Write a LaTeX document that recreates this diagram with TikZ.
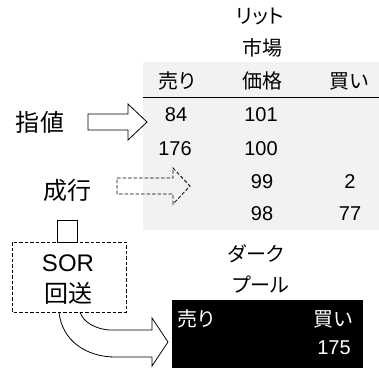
\documentclass[tikz,border=0pt]{standalone}
\usepackage{fontspec}
\setmainfont{Liberation Sans}
\newfontfamily\jp[RawFeature=+palt]{Noto Sans CJK JP}
\begin{document}
\begin{tikzpicture}[x=1pt,y=-1pt,
  tbl/.style={inner sep=0pt,font=\fontsize{20}{24}\selectfont},
  big/.style={inner sep=0pt,font=\fontsize{24}{28}\selectfont},
  wht/.style={tbl,text=white},
  shp/.style={draw=black,line width=0.8pt,line join=miter},
  dsh/.style={shp,dash pattern=on 3.5pt off 2pt}]
\useasboundingbox (0,0) rectangle (379,368);
% lit market table
\fill[gray!10] (143,62) rectangle (379,230);
\draw[line width=1pt] (143,97) -- (379,97);
\node[tbl] (lit1) at (260,17) {\jp リット};
\node[tbl] (lit2) at (262,48) {\jp 市場};
\node[tbl] (hs) at (177,81) {\jp 売り};
\node[tbl] (hp) at (262,81) {\jp 価格};
\node[tbl] (hb) at (349,81) {\jp 買い};
\node[tbl] (s1) at (176,115) {84};
\node[tbl] (p1) at (261,115) {101};
\node[tbl] (s2) at (175,149) {176};
\node[tbl] (p2) at (261,149) {100};
\node[tbl] (p3) at (262,182) {99};
\node[tbl] (b3) at (350,182) {2};
\node[tbl] (p4) at (262,214) {98};
\node[tbl] (b4) at (350,214) {77};
% labels
\node[big] (limit) at (40,122) {\jp 指値};
\node[big] (market) at (67,190) {\jp 成行};
% limit arrow
\draw[shp] (88,114) -- (128,114) -- (128,104) -- (147,122) -- (128,140) -- (128,130) -- (88,130) -- cycle;
% market arrow (dashed)
\draw[dsh] (117,178) -- (173,178) -- (173,168) -- (190,186) -- (173,204) -- (173,194) -- (117,194) -- cycle;
% small square and SOR box
\draw[shp] (57,220) rectangle (77,242);
\draw[dsh] (12,242) rectangle (126,312);
\node[big] (sor1) at (68,263) {SOR};
\node[big] (sor2) at (68,293) {\jp 回送};
% curved arrow
\draw[shp] (59,312) .. controls (62,342) and (88,357) .. (115,357) -- (152,357) -- (152,366) -- (168,342) -- (152,318) -- (152,330) -- (112,330) .. controls (96,330) and (83,322) .. (80,312);
% dark pool
\node[tbl] (dk1) at (256,254) {\jp ダーク};
\node[tbl] (dk2) at (261,285) {\jp プール};
\fill[black] (172,300) rectangle (363,368);
\node[wht] (ds) at (196,319) {\jp 売り};
\node[wht] (db) at (333,319) {\jp 買い};
\node[wht] (d175) at (334,348) {175};
\end{tikzpicture}
\end{document}
